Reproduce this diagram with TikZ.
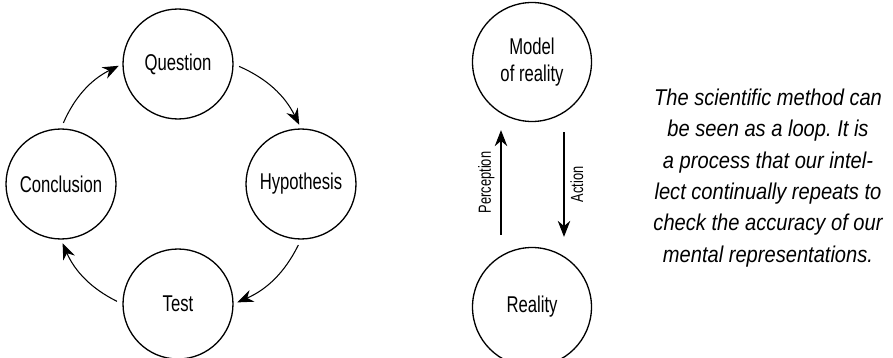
\documentclass[tikz,border=0pt]{standalone}
\usepackage{fontspec}
\setmainfont{Liberation Sans}[FakeStretch=0.73]
\newfontfamily\notefont{Liberation Sans}[FakeStretch=0.88]
\usetikzlibrary{arrows.meta}
\frenchspacing

\begin{document}
\begin{tikzpicture}[x=0.02cm, y=0.02cm,
        stage/.style={draw, circle, line width=0.75pt, minimum size=2.2cm, inner sep=0pt,
            font=\fontsize{13}{15}\selectfont},
        world/.style={stage, minimum size=2.38cm, align=center},
        flow/.style={-{Stealth[length=0.32cm, width=0.25cm]}, line width=0.6pt},
        side/.style={rotate=90, font=\fontsize{10}{12}\selectfont}]
    \useasboundingbox (0,0) rectangle (893,-358);

    % the loop
    \node (qu) [stage] at (178,-64) {Question};
    \node (hy) [stage] at (301,-184) {Hypothesis};
    \node (te) [stage] at (178,-304) {Test};
    \node (co) [stage] at (61,-184) {Conclusion};

    \path [flow, shorten <=0.12cm, shorten >=0.08cm]
        (qu.east)  edge [bend left=20] (hy.north)
        (hy.south) edge [bend left=20] (te.east)
        (te.west)  edge [bend left=20] (co.south)
        (co.north) edge [bend left=20] (qu.west);

    % model and reality
    \node (mo) [world] at (532,-62) {Model\\of reality};
    \node (re) [world] at (532,-307) {Reality};

    \draw [flow] ([shift={(-31,12)}]re.north) -- node [side, above] {Perception} ([shift={(-31,-8)}]mo.south);
    \draw [flow] ([shift={(32,-10)}]mo.south) -- node [side, below] {Action} ([shift={(32,10)}]re.north);

    \node (note) [align=center, font=\notefont\itshape\fontsize{13}{17.8}\selectfont] at (768,-178)
        {The scientific method can\\ be seen as a loop. It is\\ a process that our intel-\\
         lect continually repeats to\\ check the accuracy of our\\ mental representations.};
\end{tikzpicture}
\end{document}
